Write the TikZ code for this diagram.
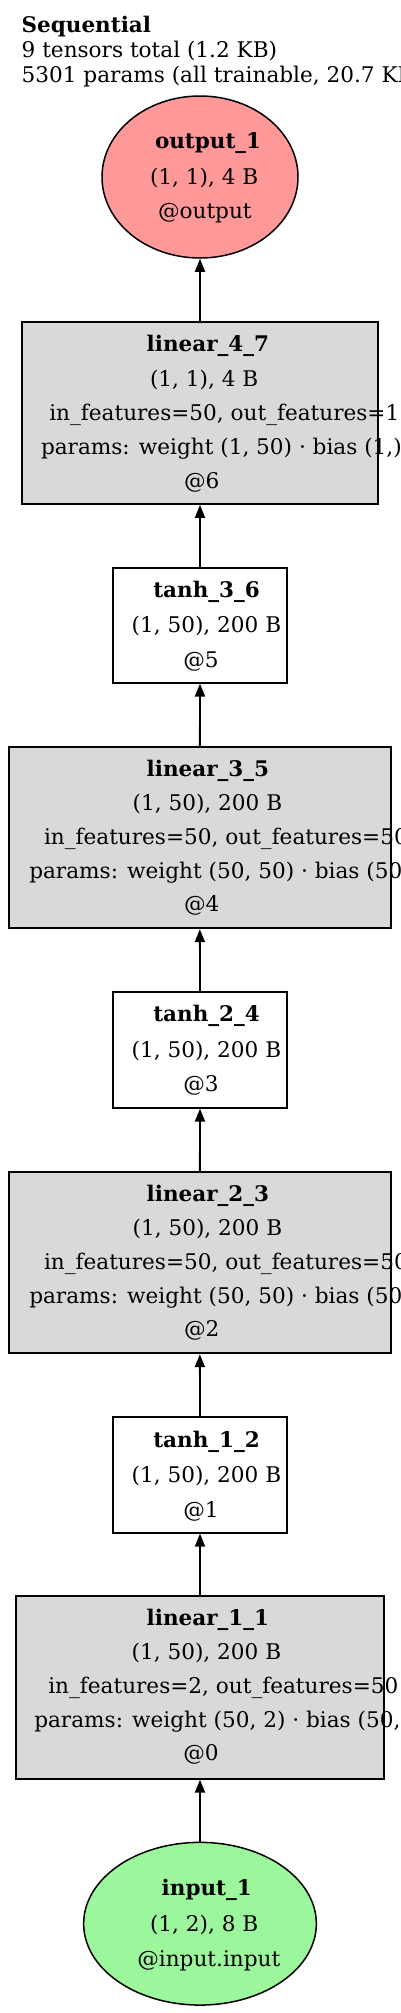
\documentclass[tikz,border=0pt]{standalone}
\usepackage{fontspec}
\setmainfont{DejaVu Serif}
\usetikzlibrary{arrows.meta,shapes.geometric}
\definecolor{boxgray}{HTML}{D9D9D9}
\definecolor{outred}{HTML}{FF9999}
\definecolor{ingreen}{HTML}{9CF79C}
\tikzset{
  txt/.style={anchor=base west, inner sep=0pt, outer sep=0pt, font=\fontsize{21.6}{26}\selectfont},
  ttl/.style={txt, font=\fontsize{21.5}{26}\selectfont\bfseries},
  gbox/.style={draw=black, line width=1.8pt, fill=boxgray, rectangle, inner sep=0pt},
  wbox/.style={draw=black, line width=1.8pt, fill=white, rectangle, inner sep=0pt},
  oval/.style={draw=black, line width=1.5pt, ellipse, inner sep=0pt},
  arr/.style={line width=1.8pt, -{Triangle[length=13pt,width=10pt]}}
}
\begin{document}
\begin{tikzpicture}[x=1pt,y=-1pt]
\clip (0,0) rectangle (400,2013);
\fill[white] (0,0) rectangle (400,2013);
% header
\node[ttl] (h1) at (21.7,32) {Sequential};
\node[txt] (h2) at (21.7,57) {9 tensors total (1.2 KB)};
\node[txt] (h3) at (21.7,82) {5301 params (all trainable, 20.7 KB)};
% boxes
\node[oval, fill=outred, minimum width=196pt, minimum height=162pt] (out) at (200,177) {};
\node[gbox, minimum width=356.6pt, minimum height=182.3pt] (lin47) at (200,412.85) {};
\node[wbox, minimum width=173.4pt, minimum height=115pt] (tanh36) at (200,625.2) {};
\node[gbox, minimum width=381.7pt, minimum height=181.6pt] (lin35) at (199.85,837.5) {};
\node[wbox, minimum width=173.4pt, minimum height=115.4pt] (tanh24) at (200,1050) {};
\node[gbox, minimum width=381.7pt, minimum height=181.6pt] (lin23) at (199.85,1262.5) {};
\node[wbox, minimum width=173.4pt, minimum height=115.4pt] (tanh12) at (200,1475) {};
\node[gbox, minimum width=368.6pt, minimum height=182.7pt] (lin11) at (200,1687.35) {};
\node[oval, fill=ingreen, minimum width=232.7pt, minimum height=162.7pt] (inp) at (200,1923.7) {};
% output text
\node[ttl] (out-a) at (155,148) {output\_1};
\node[txt] (out-b) at (150,184) {(1, 1), 4 B};
\node[txt] (out-c) at (158,218) {@output};
% linear_4_7
\node[ttl] (l47-a) at (146.7,351.7) {linear\_4\_7};
\node[txt] (l47-b) at (150,386) {(1, 1), 4 B};
\node[txt] (l47-c) at (49.3,420.5) {in\_features=50, out\_features=1};
\node[txt] (l47-d) at (41,454.5) {params: weight (1, 50) · bias (1,)};
\node[txt] (l47-e) at (184,488) {@6};
% tanh_3_6
\node[ttl] (t36-a) at (153.3,597) {tanh\_3\_6};
\node[txt] (t36-b) at (131.7,632.5) {(1, 50), 200 B};
\node[txt] (t36-c) at (183.3,667) {@5};
% linear_3_5
\node[ttl] (l35-a) at (146.7,776.7) {linear\_3\_5};
\node[txt] (l35-b) at (132.7,810.5) {(1, 50), 200 B};
\node[txt] (l35-c) at (44,844.5) {in\_features=50, out\_features=50};
\node[txt] (l35-d) at (29.3,878.2) {params: weight (50, 50) · bias (50,)};
\node[txt] (l35-e) at (184,911.7) {@4};
% tanh_2_4
\node[ttl] (t24-a) at (153.3,1021.7) {tanh\_2\_4};
\node[txt] (t24-b) at (131.7,1057) {(1, 50), 200 B};
\node[txt] (t24-c) at (183.3,1091.7) {@3};
% linear_2_3
\node[ttl] (l23-a) at (146.7,1201.7) {linear\_2\_3};
\node[txt] (l23-b) at (132.7,1235.5) {(1, 50), 200 B};
\node[txt] (l23-c) at (44,1269.5) {in\_features=50, out\_features=50};
\node[txt] (l23-d) at (29.3,1303.2) {params: weight (50, 50) · bias (50,)};
\node[txt] (l23-e) at (184,1336.7) {@2};
% tanh_1_2
\node[ttl] (t12-a) at (153.3,1447) {tanh\_1\_2};
\node[txt] (t12-b) at (131.7,1482.3) {(1, 50), 200 B};
\node[txt] (t12-c) at (183.3,1517) {@1};
% linear_1_1
\node[ttl] (l11-a) at (146.7,1625.7) {linear\_1\_1};
\node[txt] (l11-b) at (131.7,1659.5) {(1, 50), 200 B};
\node[txt] (l11-c) at (48.3,1693.5) {in\_features=2, out\_features=50};
\node[txt] (l11-d) at (34.3,1727.2) {params: weight (50, 2) · bias (50,)};
\node[txt] (l11-e) at (183.3,1760.7) {@0};
% input text
\node[ttl] (inp-a) at (161.7,1895) {input\_1};
\node[txt] (inp-b) at (150,1931.7) {(1, 2), 8 B};
\node[txt] (inp-c) at (137.3,1966.7) {@input.input};
% edges
\draw[arr] (inp.north) -- (lin11.south);
\draw[arr] (lin11.north) -- (tanh12.south);
\draw[arr] (tanh12.north) -- (lin23.south);
\draw[arr] (lin23.north) -- (tanh24.south);
\draw[arr] (tanh24.north) -- (lin35.south);
\draw[arr] (lin35.north) -- (tanh36.south);
\draw[arr] (tanh36.north) -- (lin47.south);
\draw[arr] (lin47.north) -- (out.south);
\end{tikzpicture}
\end{document}
